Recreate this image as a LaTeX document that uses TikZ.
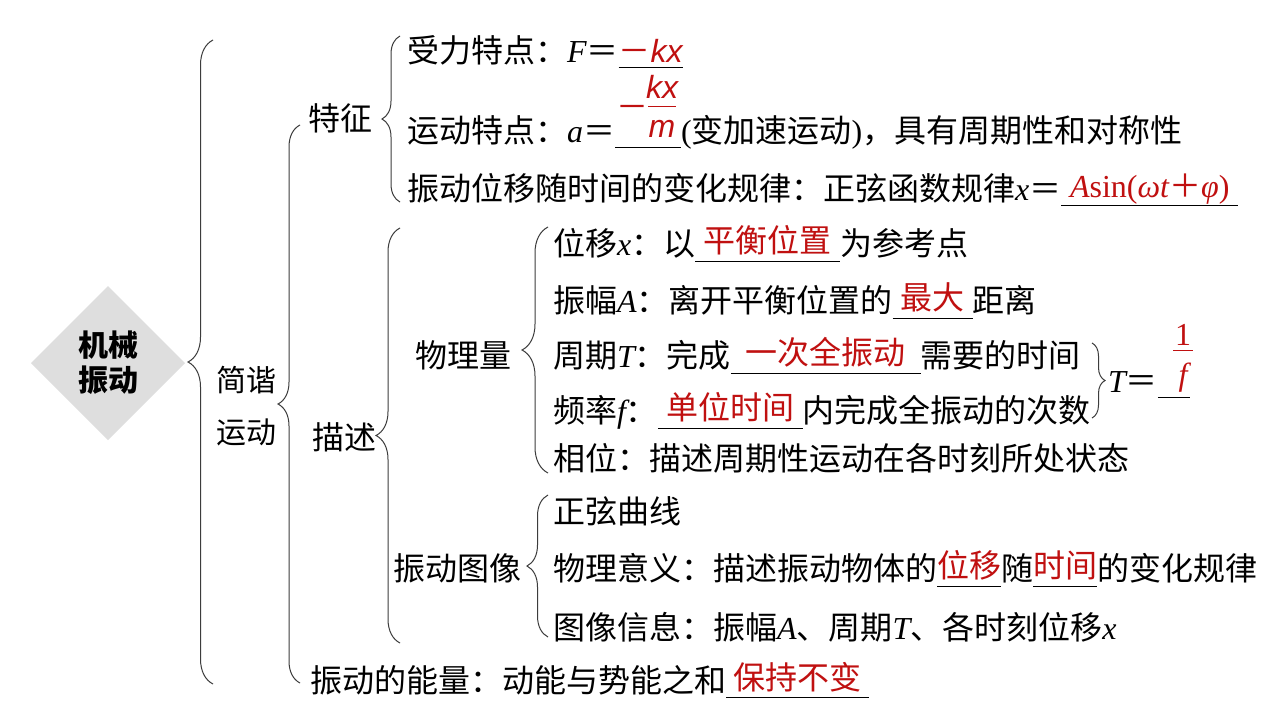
\documentclass[tikz,border=0pt]{standalone}
\usepackage{fontspec}
\setmainfont{Noto Sans CJK SC}
\newfontfamily\tm{Liberation Serif}
\newfontfamily\ar{Liberation Sans}
\usetikzlibrary{shapes.geometric,decorations.pathreplacing}
\definecolor{ansred}{RGB}{192,16,16}
\definecolor{brcol}{RGB}{60,60,60}
\definecolor{diacol}{RGB}{222,222,222}
\newcommand\mi[1]{{\tm\itshape #1}}
\newcommand\mr[1]{{\tm #1}}
\newcommand\si[1]{{\ar\itshape #1}}
\begin{document}
\begin{tikzpicture}[x=1pt,y=-1pt,
  every node/.style={inner sep=0pt, outer sep=0pt},
  txt/.style={anchor=west, text height=28pt, text depth=4pt, font=\fontsize{32}{38}\selectfont},
  ctxt/.style={txt, anchor=center},
  ans/.style={txt, text=ansred, text height=25pt, text depth=7pt},
  uline/.style={draw=black, line width=0.9pt},
  redbar/.style={draw=ansred, line width=0.9pt},
  curly/.style={draw=brcol, line width=1pt, decorate, decoration={brace, amplitude=#1}},
]
\useasboundingbox[fill=white] (0,0) rectangle (1279,720);

% root
\node[diamond, fill=diacol, minimum width=154pt, minimum height=154pt, align=center,
      font=\fontsize{30}{35}\selectfont\bfseries] (root) at (108,363) {机械\\振动};
\draw[curly=25pt] (213,684) -- (213,40);

\node[align=center, font=\fontsize{30}{35}\selectfont] (jx) at (246,406) {简谐\\[17pt]运动};
\draw[curly=22pt] (300,683) -- (300,125);

% 特征
\node[txt] (tz) at (308,118) {特征};
\draw[curly=18pt] (400,202) -- (400,36);

\node[txt] (r1) at (407,50) {受力特点：\mi{F}＝};
\node[txt, text=ansred, minimum width=64pt] (r1a) at (r1.east) {－\si{kx}};
\draw[uline] ([yshift=-1pt]r1a.south west) -- ([yshift=-1pt]r1a.south east);

\node[txt] (r2) at (407,130) {运动特点：\mi{a}＝};
\node[txt, minimum width=66pt] (r2a) at (r2.east) {};
\node[txt] (r2b) at (r2a.east) {\mr{(}变加速运动\mr{)}，具有周期性和对称性};
\draw[uline] ([yshift=-1pt]r2a.south west) -- ([yshift=-1pt]r2a.south east);
\node[ctxt, text=ansred] (r2m) at (632,106) {－};
\node[ctxt, text=ansred] (r2k) at (662,86) {\si{kx}};
\node[ctxt, text=ansred] (r2n) at (662,125) {\si{m}};
\draw[redbar] (648,106) -- (676,106);

\node[txt] (r3) at (407,188) {振动位移随时间的变化规律：正弦函数规律\mi{x}＝};
\node[ans, minimum width=177pt] (r3a) at (r3.east) {\mi{A}\mr{sin(}\mi{ωt}＋\mi{φ}\mr{)}};
\draw[uline] ([yshift=-1pt]r3a.south west) -- ([yshift=-1pt]r3a.south east);

% 描述
\node[txt] (ms) at (312,437) {描述};
\draw[curly=24pt] (400,643) -- (400,228);

\node[txt] (wl) at (415,355) {物理量};
\draw[curly=26pt] (548,473) -- (548,227);

\node[txt] (p1) at (553,243) {位移\mi{x}：以};
\node[ans, minimum width=145pt] (p1a) at (p1.east) {平衡位置};
\node[txt] (p1b) at (p1a.east) {为参考点};
\draw[uline] ([yshift=-2pt]p1a.south west) -- ([yshift=-2pt]p1a.south east);

\node[txt] (p2) at (553,300) {振幅\mi{A}：离开平衡位置的};
\node[ans, minimum width=80pt] (p2a) at (p2.east) {最大};
\node[txt] (p2b) at (p2a.east) {距离};
\draw[uline] ([yshift=-2pt]p2a.south west) -- ([yshift=-2pt]p2a.south east);

\node[txt] (p3) at (553,355) {周期\mi{T}：完成};
\node[ans, minimum width=190pt] (p3a) at (p3.east) {一次全振动};
\node[txt] (p3b) at (p3a.east) {需要的时间};
\draw[uline] ([yshift=-2pt]p3a.south west) -- ([yshift=-2pt]p3a.south east);

\node[txt] (p4) at (553,410) {频率\mi{f}：};
\node[ans, minimum width=145pt] (p4a) at (p4.east) {单位时间};
\node[txt] (p4b) at (p4a.east) {内完成全振动的次数};
\draw[uline] ([yshift=-2pt]p4a.south west) -- ([yshift=-2pt]p4a.south east);

\node[txt] (p5) at (553,458) {相位：描述周期性运动在各时刻所处状态};

\draw[curly=13pt] (1092,343) -- (1092,418);
\node[txt] (tq) at (1108,380) {\mi{T}＝};
\node[txt, minimum width=32pt] (tb) at (tq.east) {};
\draw[uline] ([yshift=-1pt]tb.south west) -- ([yshift=-1pt]tb.south east);
\node[ctxt, text=ansred] (one) at (1183,333) {\mr{1}};
\node[ctxt, text=ansred] (ff) at (1183,373) {\mi{f}};
\draw[redbar] (1173,350) -- (1193,350);

% 振动图像
\node[txt] (tx) at (393,568) {振动图像};
\draw[curly=21pt] (548,637) -- (548,495);

\node[txt] (q1) at (553,511) {正弦曲线};
\node[txt] (q2) at (553,568) {物理意义：描述振动物体的};
\node[ans, minimum width=62pt] (q2a) at (q2.east) {位移};
\node[txt] (q2b) at (q2a.east) {随};
\node[ans, minimum width=64pt] (q2c) at (q2b.east) {时间};
\node[txt] (q2d) at (q2c.east) {的变化规律};
\draw[uline] ([yshift=-2pt]q2a.south west) -- ([yshift=-2pt]q2a.south east);
\draw[uline] ([yshift=-2pt]q2c.south west) -- ([yshift=-2pt]q2c.south east);
\node[txt] (q3) at (553,627) {图像信息：振幅\mi{A}、周期\mi{T}、各时刻位移\mi{x}};

% energy
\node[txt] (en) at (310,680) {振动的能量：动能与势能之和};
\node[ans, minimum width=143pt] (ena) at (en.east) {保持不变};
\draw[uline] ([yshift=-1pt]ena.south west) -- ([yshift=-1pt]ena.south east);
\end{tikzpicture}
\end{document}
